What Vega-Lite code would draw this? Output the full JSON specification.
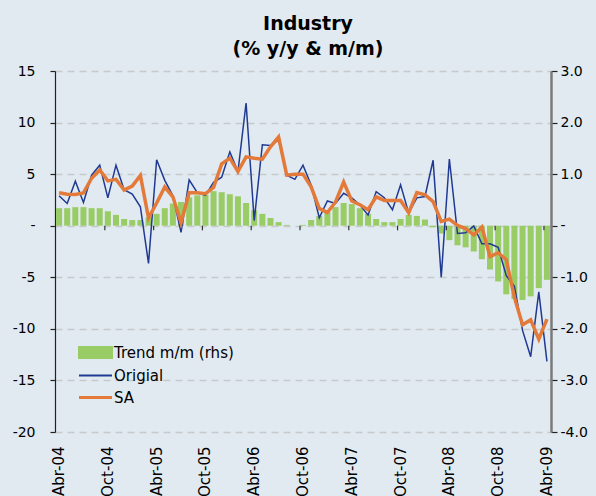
{
  "$schema": "https://vega.github.io/schema/vega-lite/v6.json",
  "width": 496,
  "height": 361,
  "autosize": "none",
  "padding": {"left": 55, "top": 71, "right": 45, "bottom": 64},
  "background": "#E1EAF0",
  "config": {
    "view": {"stroke": null},
    "font": "DejaVu Sans",
    "axis": {"labelFont": "DejaVu Sans", "labelColor": "#000000", "labelFontSize": 14, "titleFontSize": 14}
  },
  "title": {
    "text": ["Industry", "(% y/y & m/m)"],
    "fontSize": 19,
    "fontWeight": "bold",
    "font": "DejaVu Sans",
    "color": "#000000",
    "anchor": "middle",
    "frame": "group",
    "offset": 5,
    "dx": 5,
    "lineHeight": 25
  },
  "datasets": {
    "m": [
      {"month": "Abr-04", "trend": 0.34, "original": 2.9, "sa": 3.2},
      {"month": "May-04", "trend": 0.34, "original": 2.16, "sa": 3.05},
      {"month": "Jun-04", "trend": 0.36, "original": 4.32, "sa": 3.03},
      {"month": "Jul-04", "trend": 0.36, "original": 2.26, "sa": 3.18},
      {"month": "Ago-04", "trend": 0.34, "original": 4.9, "sa": 4.6},
      {"month": "Sep-04", "trend": 0.34, "original": 5.87, "sa": 5.4},
      {"month": "Oct-04", "trend": 0.28, "original": 2.7, "sa": 4.35},
      {"month": "Nov-04", "trend": 0.21, "original": 5.87, "sa": 4.5},
      {"month": "Dic-04", "trend": 0.13, "original": 3.5, "sa": 3.45},
      {"month": "Ene-05", "trend": 0.11, "original": 3.06, "sa": 3.85},
      {"month": "Feb-05", "trend": 0.11, "original": 1.84, "sa": 4.87},
      {"month": "Mar-05", "trend": 0.16, "original": -3.65, "sa": 0.75},
      {"month": "Abr-05", "trend": 0.23, "original": 6.4, "sa": 2.2},
      {"month": "May-05", "trend": 0.34, "original": 4.4, "sa": 3.75},
      {"month": "Jun-05", "trend": 0.43, "original": 2.9, "sa": 2.8},
      {"month": "Jul-05", "trend": 0.46, "original": -0.65, "sa": 0.28},
      {"month": "Ago-05", "trend": 0.55, "original": 4.45, "sa": 3.2},
      {"month": "Sep-05", "trend": 0.59, "original": 3.2, "sa": 3.2},
      {"month": "Oct-05", "trend": 0.6, "original": 2.95, "sa": 3.1},
      {"month": "Nov-05", "trend": 0.67, "original": 4.2, "sa": 3.7},
      {"month": "Dic-05", "trend": 0.65, "original": 4.7, "sa": 6.0},
      {"month": "Ene-06", "trend": 0.61, "original": 7.16, "sa": 6.55},
      {"month": "Feb-06", "trend": 0.57, "original": 5.25, "sa": 5.25},
      {"month": "Mar-06", "trend": 0.44, "original": 11.9, "sa": 6.68},
      {"month": "Abr-06", "trend": 0.3, "original": 0.5, "sa": 6.55},
      {"month": "May-06", "trend": 0.23, "original": 7.85, "sa": 6.45},
      {"month": "Jun-06", "trend": 0.15, "original": 7.77, "sa": 7.65},
      {"month": "Jul-06", "trend": 0.07, "original": 8.3, "sa": 8.6},
      {"month": "Ago-06", "trend": 0.015, "original": 4.9, "sa": 4.9},
      {"month": "Sep-06", "trend": 0.0, "original": 4.5, "sa": 5.0},
      {"month": "Oct-06", "trend": 0.015, "original": 5.87, "sa": 5.0},
      {"month": "Nov-06", "trend": 0.11, "original": 3.94, "sa": 3.77},
      {"month": "Dic-06", "trend": 0.19, "original": 0.77, "sa": 1.68},
      {"month": "Ene-07", "trend": 0.26, "original": 2.4, "sa": 1.28},
      {"month": "Feb-07", "trend": 0.36, "original": 2.16, "sa": 2.3},
      {"month": "Mar-07", "trend": 0.44, "original": 3.15, "sa": 4.23},
      {"month": "Abr-07", "trend": 0.42, "original": 2.7, "sa": 2.4},
      {"month": "May-07", "trend": 0.34, "original": 2.0, "sa": 2.03},
      {"month": "Jun-07", "trend": 0.23, "original": 1.03, "sa": 1.55},
      {"month": "Jul-07", "trend": 0.13, "original": 3.3, "sa": 2.8},
      {"month": "Ago-07", "trend": 0.07, "original": 2.72, "sa": 2.45},
      {"month": "Sep-07", "trend": 0.07, "original": 1.55, "sa": 2.45},
      {"month": "Oct-07", "trend": 0.13, "original": 3.97, "sa": 2.45},
      {"month": "Nov-07", "trend": 0.21, "original": 1.22, "sa": 1.25},
      {"month": "Dic-07", "trend": 0.19, "original": 2.7, "sa": 3.22},
      {"month": "Ene-08", "trend": 0.12, "original": 2.83, "sa": 3.0},
      {"month": "Feb-08", "trend": -0.03, "original": 6.35, "sa": 2.33},
      {"month": "Mar-08", "trend": -0.15, "original": -5.0, "sa": 0.42},
      {"month": "Abr-08", "trend": -0.28, "original": 6.47, "sa": 0.64},
      {"month": "May-08", "trend": -0.38, "original": -0.76, "sa": 0.03},
      {"month": "Jun-08", "trend": -0.42, "original": -0.69, "sa": -0.27},
      {"month": "Jul-08", "trend": -0.5, "original": -0.03, "sa": -0.9},
      {"month": "Ago-08", "trend": -0.65, "original": -1.75, "sa": -0.14},
      {"month": "Sep-08", "trend": -0.85, "original": -1.76, "sa": -3.0},
      {"month": "Oct-08", "trend": -1.08, "original": -2.1, "sa": -2.62},
      {"month": "Nov-08", "trend": -1.33, "original": -4.85, "sa": -3.3},
      {"month": "Dic-08", "trend": -1.42, "original": -5.88, "sa": -6.95},
      {"month": "Ene-09", "trend": -1.44, "original": -10.15, "sa": -9.6},
      {"month": "Feb-09", "trend": -1.37, "original": -12.7, "sa": -9.13},
      {"month": "Mar-09", "trend": -1.21, "original": -6.42, "sa": -11.0},
      {"month": "Abr-09", "trend": -1.05, "original": -13.15, "sa": -9.05}
    ]
  },
  "data": {"name": "m"},
  "encoding": {
    "x": {
      "field": "month",
      "type": "ordinal",
      "sort": null,
      "title": null,
      "scale": {"paddingInner": 0.26, "paddingOuter": 0.13},
      "axis": {
        "values": ["Abr-04", "Oct-04", "Abr-05", "Oct-05", "Abr-06", "Oct-06", "Abr-07", "Oct-07", "Abr-08", "Oct-08", "Abr-09"],
        "labelAngle": 270,
        "labelPadding": 14,
        "domain": false,
        "ticks": false,
        "grid": false,
        "labelFontSize": 15
      }
    }
  },
  "layer": [
    {
      "mark": {"type": "bar"},
      "encoding": {
        "y": {
          "field": "trend",
          "type": "quantitative",
          "title": null,
          "scale": {"domain": [-4, 3], "nice": false, "zero": false},
          "axis": {
            "orient": "right",
            "values": [-4, -3, -2, -1, 0, 1, 2, 3],
            "format": ".1f",
            "labelExpr": "datum.value == 0 ? '-' : replace(datum.label, '−', '-')",
            "grid": false,
            "domainColor": "#7A7A7A",
            "domainWidth": 2.5,
            "tickColor": "#222222",
            "tickSize": 6,
            "tickWidth": 1.2,
            "labelPadding": 3
          }
        },
        "color": {
          "datum": "Trend m/m (rhs)",
          "scale": {"domain": ["Trend m/m (rhs)", "Origial", "SA"], "range": ["#9ACC66", "#203A93", "#E37A3A"]},
          "legend": {
            "orient": "none",
            "legendX": 33,
            "legendY": 274,
            "title": null,
            "labelFontSize": 15,
            "labelFont": "DejaVu Sans",
            "labelColor": "#000000",
            "symbolSize": 1089,
            "rowPadding": 6,
            "labelOffset": 11,
            "encode": {
              "symbols": {
                "update": {
                  "shape": {"signal": "datum.value === 'Trend m/m (rhs)' ? 'M-1,-0.33H1V0.33H-1Z' : 'stroke'"},
                  "fill": {"signal": "datum.value === 'Trend m/m (rhs)' ? '#9ACC66' : 'transparent'"},
                  "stroke": {"signal": "datum.value === 'Trend m/m (rhs)' ? 'transparent' : (datum.value === 'SA' ? '#E37A3A' : '#3F5FB0')"},
                  "strokeWidth": {"signal": "datum.value === 'SA' ? 3 : 2"},
                  "opacity": {"value": 1}
                }
              }
            }
          }
        }
      }
    },
    {
      "layer": [
        {
          "mark": {"type": "rule", "color": "#4A4A4A", "strokeWidth": 2},
          "encoding": {
            "y": {
              "datum": 0,
              "type": "quantitative",
              "title": null,
              "scale": {"domain": [-20, 15], "nice": false, "zero": false},
              "axis": {
                "orient": "left",
                "title": null,
                "values": [-20, -15, -10, -5, 0, 5, 10, 15],
                "labelExpr": "datum.value == 0 ? '-' : replace(datum.label, '−', '-')",
                "grid": true,
                "gridColor": "#C6CACD",
                "gridDash": [7, 5],
                "gridWidth": 1.5,
                "domainColor": "#222222",
                "domainWidth": 1.2,
                "tickColor": "#222222",
                "tickSize": 5,
                "tickWidth": 1.2,
                "labelPadding": 15
              }
            }
          }
        },
        {
          "transform": [{"filter": "test(/^(Abr|Oct)/, datum.month) && datum.month != 'Abr-04'"}],
          "mark": {"type": "rule", "color": "#333333", "strokeWidth": 1.2},
          "encoding": {
            "x": {"field": "month", "type": "ordinal", "sort": null, "bandPosition": 0},
            "y": {"datum": 0, "type": "quantitative", "title": null},
            "y2": {"datum": -0.45}
          }
        },
        {
          "mark": {"type": "line", "strokeWidth": 1.5},
          "encoding": {
            "y": {"field": "original", "type": "quantitative", "title": null},
            "color": {"datum": "Origial"}
          }
        },
        {
          "mark": {"type": "line", "strokeWidth": 3.5},
          "encoding": {
            "y": {"field": "sa", "type": "quantitative", "title": null},
            "color": {"datum": "SA"}
          }
        }
      ]
    }
  ],
  "resolve": {"scale": {"y": "independent"}}
}
